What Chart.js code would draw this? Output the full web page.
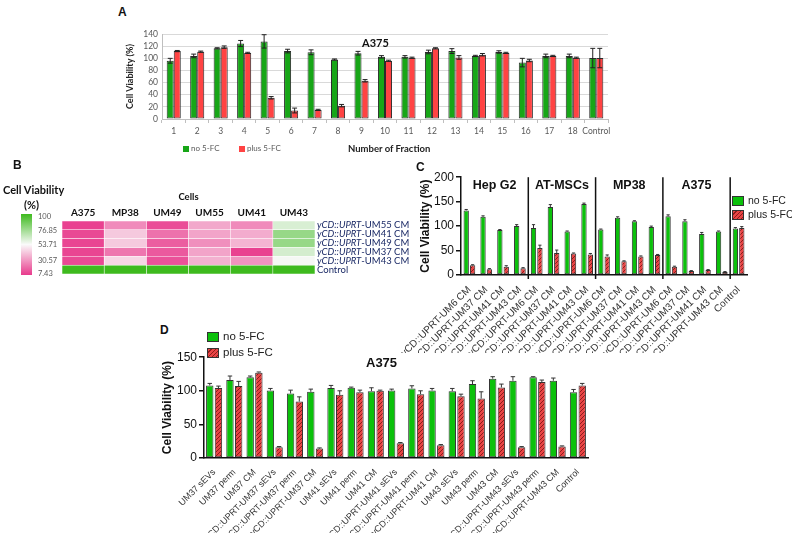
<!DOCTYPE html>
<html>
<head>
    <title>Cell viability panels</title>
    <script src="https://cdn.jsdelivr.net/npm/chart.js"></script>
    <style>
        body { margin: 0; background: #ffffff; }
        #fig { position: relative; width: 792px; height: 533px; overflow: hidden; font-family: "Liberation Sans", Arial, sans-serif; }
        #fig canvas { position: absolute; }
        .txt { position: absolute; white-space: nowrap; line-height: 1; }
        .letter { font-weight: bold; font-size: 12px; color: #111; }
        .xl { font-family: Lato, sans-serif; }
        .box { position: absolute; }
    </style>
</head>
<body>
<div id="fig">
    <!-- panel A -->
    <div class="txt letter" style="left:118px; top:6px;">A</div>
    <canvas id="chartA" width="515" height="120" style="left:100px; top:25px;"></canvas>
    <div class="txt xl" style="left:362px; top:37px; font-size:11px; font-weight:bold; color:#111;">A375</div>
    <div class="box" style="left:183px; top:146px; width:6px; height:6px; background:#17a617;"></div>
    <div class="txt xl" style="left:191px; top:144px; font-size:8px; color:#595959;">no 5-FC</div>
    <div class="box" style="left:239px; top:146px; width:6px; height:6px; background:#ff4343;"></div>
    <div class="txt xl" style="left:247px; top:144px; font-size:8px; color:#595959;">plus 5-FC</div>
    <div class="txt xl" style="left:348px; top:144px; font-size:9.5px; font-weight:bold; color:#222;">Number of Fraction</div>

    <!-- panel B -->
    <div class="txt letter" style="left:13px; top:159px;">B</div>
    <div class="txt xl" style="left:3px; top:184px; font-size:11px; font-weight:bold; color:#111;">Cell Viability</div>
    <div class="txt xl" style="left:24px; top:199px; font-size:11px; font-weight:bold; color:#111;">(%)</div>
    <div class="box" id="cbar" style="left:21px; top:214px; width:11px; height:61px;"></div>
    <div class="txt xl" style="left:38px; top:213px; font-size:7.5px; color:#595959;">100</div>
    <div class="txt xl" style="left:38px; top:227px; font-size:7.5px; color:#595959;">76.85</div>
    <div class="txt xl" style="left:38px; top:241px; font-size:7.5px; color:#595959;">53.71</div>
    <div class="txt xl" style="left:38px; top:257px; font-size:7.5px; color:#595959;">30.57</div>
    <div class="txt xl" style="left:38px; top:270px; font-size:7.5px; color:#595959;">7.43</div>
    <canvas id="chartB" width="360" height="92" style="left:55px; top:186px;"></canvas>

    <!-- panel C -->
    <div class="txt letter" style="left:416px; top:161px;">C</div>
    <canvas id="chartC" width="358" height="185" style="left:395px; top:168px;"></canvas>
    <div class="box" style="left:732px; top:196px; width:10px; height:8px; background:#0bc10b; border:1px solid #333;"></div>
    <div class="txt" style="left:748px; top:195px; font-size:10.5px; color:#222;">no 5-FC</div>
    <div class="box" id="swC" style="left:732px; top:210px; width:10px; height:8px; border:1px solid #333;"></div>
    <div class="txt" style="left:748px; top:209px; font-size:10.5px; color:#222;">plus 5-FC</div>

    <!-- panel D -->
    <div class="txt letter" style="left:160px; top:324px;">D</div>
    <canvas id="chartD" width="434" height="185" style="left:160px; top:348px;"></canvas>
    <div class="txt" style="left:366px; top:356px; font-size:13px; font-weight:bold; color:#111;">A375</div>
    <div class="box" style="left:207px; top:332px; width:10px; height:8px; background:#0bc10b; border:1px solid #333;"></div>
    <div class="txt" style="left:223px; top:331px; font-size:11.5px; color:#222;">no 5-FC</div>
    <div class="box" id="swD" style="left:207px; top:348px; width:10px; height:8px; border:1px solid #333;"></div>
    <div class="txt" style="left:223px; top:347px; font-size:11.5px; color:#222;">plus 5-FC</div>
</div>

<script>
    // ---- panel A data (fractions) ----
    const fractions = ['1','2','3','4','5','6','7','8','9','10','11','12','13','14','15','16','17','18','Control'];
    const aNo      = [96, 104, 116.5, 124.5, 128, 112, 110, 98, 108.5, 102.5, 102.5, 110.5, 112, 104, 110.5, 93, 104, 104, 100.5];
    const aNoErr   = [4, 3, 1, 5, 11, 3, 4, 1, 3, 2, 2, 3, 4, 1, 2, 7, 3, 3, 16];
    const aPlus    = [112, 111, 118.5, 109, 35, 14, 15, 22, 63, 96, 101, 116.5, 101.5, 106, 109, 96.5, 104, 101, 100.5];
    const aPlusErr = [1, 1, 2, 1, 2, 4, 1, 2, 2, 1, 1, 1, 3, 2, 1, 2, 1, 1, 16];

    // ---- panel B data (heatmap) ----
    const hCells = ['A375', 'MP38', 'UM49', 'UM55', 'UM41', 'UM43'];
    const hRowLabels = ['yCD::UPRT-UM55 CM', 'yCD::UPRT-UM41 CM', 'yCD::UPRT-UM49 CM', 'yCD::UPRT-UM37 CM', 'yCD::UPRT-UM43 CM', 'Control'];
    const hUM55 = [9, 27, 12, 34, 27, 62];
    const hUM41 = [11, 42, 21, 33, 35, 78];
    const hUM49 = [10, 42, 16, 28, 37, 78];
    const hUM37 = [10, 22, 15, 33, 9, 63];
    const hUM43 = [11, 45, 13, 36, 29, 55];
    const hControl = [100, 100, 100, 100, 100, 100];
    const hValues = [hUM55, hUM41, hUM49, hUM37, hUM43, hControl];

    // ---- panel C data ----
    const cGroups = ['Hep G2', 'AT-MSCs', 'MP38', 'A375'];
    const cmNames = ['yCD::UPRT-UM6 CM', 'yCD::UPRT-UM37 CM', 'yCD::UPRT-UM41 CM', 'yCD::UPRT-UM43 CM'];
    const cLabels = [...cmNames, ...cmNames, ...cmNames, ...cmNames, 'Control'];
    const cNo      = [132, 119, 92, 100, 96, 139, 89, 145, 93, 117, 110, 98, 120, 110, 84, 89, 95];
    const cNoErr   = [2, 2, 1, 3, 7, 5, 1, 2, 1, 2, 1, 2, 3, 3, 3, 1, 2];
    const cPlus    = [20, 12, 17, 14, 55, 45, 44, 42, 38, 28, 38, 41, 17, 8, 10, 6, 96];
    const cPlusErr = [1, 1, 2, 1, 6, 6, 1, 2, 3, 1, 1, 1, 1, 1, 1, 1, 3];

    // ---- panel D data ----
    const dLabels = ['UM37 sEVs', 'UM37 perm', 'UM37 CM', 'yCD::UPRT-UM37 sEVs', 'yCD::UPRT-UM37 perm', 'yCD::UPRT-UM37 CM',
                     'UM41 sEVs', 'UM41 perm', 'UM41 CM', 'yCD::UPRT-UM41 sEVs', 'yCD::UPRT-UM41 perm', 'yCD::UPRT-UM41 CM',
                     'UM43 sEVs', 'UM43 perm', 'UM43 CM', 'yCD::UPRT-UM43 sEVs', 'yCD::UPRT-UM43 perm', 'yCD::UPRT-UM43 CM', 'Control'];
    const dNo      = [108, 116, 120, 100.5, 96, 98.5, 104, 104.5, 99.5, 100.5, 103.5, 100.5, 99.5, 110, 118, 115, 120, 115, 98];
    const dNoErr   = [3, 6, 2, 3, 5, 4, 4, 1, 5, 2, 4, 3, 4, 5, 3, 6, 1, 4, 4];
    const dPlus    = [104, 107, 127, 16, 84, 14, 94, 98, 100, 22, 95, 19, 92, 88.5, 105, 16, 113, 17, 108];
    const dPlusErr = [3, 7, 1, 1, 7, 1, 6, 3, 1, 1, 5, 1, 3, 10, 5, 1, 3, 1, 3];

    const GREEN = '#0bc10b';
    const HATCH_BG = '#e84545', HATCH_LINE = '#8e1b1b';

    // hatched red fill used in C and D
    function hatch() {
        const c = document.createElement('canvas');
        c.width = 4; c.height = 4;
        const g = c.getContext('2d');
        g.fillStyle = HATCH_BG; g.fillRect(0, 0, 4, 4);
        g.strokeStyle = HATCH_LINE; g.lineWidth = 1;
        g.beginPath(); g.moveTo(-1, 1); g.lineTo(1, -1); g.moveTo(0, 4); g.lineTo(4, 0); g.moveTo(3, 5); g.lineTo(5, 3); g.stroke();
        return g.createPattern(c, 'repeat');
    }
    const swatch = 'repeating-linear-gradient(135deg, ' + HATCH_BG + ' 0 2px, ' + HATCH_LINE + ' 2px 3px)';
    document.getElementById('swC').style.background = swatch;
    document.getElementById('swD').style.background = swatch;

    // heatmap colour scale 7.43 pink -> 53.71 white -> 100 green
    const lo = [232, 58, 140], mid = [250, 250, 250], hi = [62, 186, 30];
    function hmColor(v) {
        let a, b, t;
        if (v <= 53.71) { a = lo; b = mid; t = (v - 7.43) / (53.71 - 7.43); }
        else { a = mid; b = hi; t = (v - 53.71) / (100 - 53.71); }
        t = Math.max(0, Math.min(1, t));
        return 'rgb(' + a.map((c, i) => Math.round(c + (b[i] - c) * t)).join(',') + ')';
    }
    document.getElementById('cbar').style.background =
        'linear-gradient(to bottom, rgb(' + hi.join(',') + '), rgb(' + mid.join(',') + '), rgb(' + lo.join(',') + '))';

    // error bars drawn from the y scale
    const errorBars = {
        id: 'errorBars',
        afterDatasetsDraw(chart, args, opts) {
            const ctx = chart.ctx, y = chart.scales.y;
            chart.data.datasets.forEach((ds, i) => {
                if (!ds.errors) return;
                chart.getDatasetMeta(i).data.forEach((bar, j) => {
                    const v = ds.data[j], e = ds.errors[j];
                    const top = y.getPixelForValue(v + e);
                    const bot = opts.both ? y.getPixelForValue(v - e) : bar.y;
                    const w = bar.width * opts.cap;
                    ctx.save();
                    ctx.strokeStyle = opts.color;
                    ctx.lineWidth = 1;
                    ctx.beginPath();
                    ctx.moveTo(bar.x, top); ctx.lineTo(bar.x, bot);
                    ctx.moveTo(bar.x - w / 2, top); ctx.lineTo(bar.x + w / 2, top);
                    if (opts.both) { ctx.moveTo(bar.x - w / 2, bot); ctx.lineTo(bar.x + w / 2, bot); }
                    ctx.stroke();
                    ctx.restore();
                });
            });
        }
    };

    // group labels and separators for panel C
    const groupLines = {
        id: 'groupLines',
        afterDraw(chart) {
            const ctx = chart.ctx, x = chart.scales.x, a = chart.chartArea;
            ctx.save();
            ctx.fillStyle = '#111';
            ctx.font = 'bold 12.5px "Liberation Sans", Arial';
            ctx.textAlign = 'center';
            ctx.textBaseline = 'middle';
            ctx.strokeStyle = '#111';
            ctx.lineWidth = 1.5;
            cGroups.forEach((g, k) => {
                const first = k * 4, last = k * 4 + 3;
                const center = (x.getPixelForValue(first) + x.getPixelForValue(last)) / 2;
                ctx.fillText(g, center, a.top + 8);
                const sep = (x.getPixelForValue(last) + x.getPixelForValue(last + 1)) / 2;
                ctx.beginPath(); ctx.moveTo(sep, a.top); ctx.lineTo(sep, a.bottom + 4); ctx.stroke();
            });
            ctx.restore();
        }
    };

    // heatmap row labels with italic gene part
    const rowLabels = {
        id: 'rowLabels',
        afterDraw(chart) {
            const ctx = chart.ctx, y = chart.scales.y, a = chart.chartArea;
            ctx.save();
            ctx.fillStyle = '#1b2a66';
            ctx.textBaseline = 'middle';
            hRowLabels.forEach((lab, i) => {
                const py = y.getPixelForValue(i);
                let px = a.right + 2;
                const cut = lab.indexOf('-');
                if (cut > 0) {
                    ctx.font = 'italic 9.5px Lato';
                    ctx.fillText(lab.slice(0, cut), px, py);
                    px += ctx.measureText(lab.slice(0, cut)).width;
                    ctx.font = '9.5px Lato';
                    ctx.fillText(lab.slice(cut), px, py);
                } else {
                    ctx.font = '9.5px Lato';
                    ctx.fillText(lab, px, py);
                }
            });
            ctx.restore();
        }
    };

    // ---- chart A ----
    new Chart(document.getElementById('chartA'), {
        type: 'bar',
        data: {
            labels: fractions,
            datasets: [
                { label: 'no 5-FC', data: aNo, errors: aNoErr, backgroundColor: '#17a617', borderColor: '#2b2b2b', borderWidth: 1 },
                { label: 'plus 5-FC', data: aPlus, errors: aPlusErr, backgroundColor: '#ff4343', borderColor: '#2b2b2b', borderWidth: 1 }
            ]
        },
        plugins: [errorBars],
        options: {
            responsive: false,
            animation: false,
            layout: { padding: { top: 7, right: 7, left: 23 } },
            datasets: { bar: { categoryPercentage: 0.6, barPercentage: 1, borderSkipped: false } },
            plugins: { legend: { display: false }, tooltip: { enabled: false }, errorBars: { both: true, color: '#222', cap: 0.7 } },
            scales: {
                x: {
                    afterFit: s => { s.height = 26; },
                    grid: { drawOnChartArea: false, offset: true, tickLength: 4, color: '#bfbfbf' },
                    border: { color: '#bfbfbf' },
                    ticks: { font: { family: 'Lato', size: 8.5 }, color: '#595959', padding: 3, autoSkip: false, maxRotation: 0 }
                },
                y: {
                    min: 0, max: 140,
                    afterFit: s => { s.width = 39; },
                    ticks: { stepSize: 20, autoSkip: false, font: { family: 'Lato', size: 8.5 }, color: '#595959', padding: 4 },
                    grid: { color: '#d9d9d9', drawTicks: false },
                    border: { color: '#bfbfbf' },
                    title: { display: true, text: 'Cell Viability (%)', font: { family: 'Lato', size: 9, weight: 'bold' }, color: '#222', padding: 2 }
                }
            }
        }
    });

    // ---- chart B (heatmap) ----
    new Chart(document.getElementById('chartB'), {
        type: 'bar',
        data: {
            labels: hRowLabels,
            datasets: hCells.map((cell, j) => ({
                label: cell,
                data: hValues.map(() => 1),
                backgroundColor: hValues.map(r => hmColor(r[j])),
                borderColor: 'rgba(255,255,255,0.55)',
                borderWidth: 0.6,
                borderSkipped: false
            }))
        },
        plugins: [rowLabels],
        options: {
            responsive: false,
            animation: false,
            indexAxis: 'y',
            layout: { padding: { left: 7, right: 100, bottom: 4 } },
            datasets: { bar: { categoryPercentage: 1, barPercentage: 1 } },
            plugins: { legend: { display: false }, tooltip: { enabled: false } },
            scales: {
                x: {
                    stacked: true, position: 'top', min: 0, max: hCells.length,
                    afterFit: s => { s.height = 35; },
                    afterBuildTicks: ax => { ax.ticks = hCells.map((c, i) => ({ value: i + 0.5 })); },
                    ticks: { callback: (v, i) => hCells[i], autoSkip: false, maxRotation: 0, font: { family: 'Lato', size: 10, weight: 'bold' }, color: '#111', padding: 2 },
                    grid: { display: false, drawTicks: false },
                    border: { display: false },
                    title: { display: true, text: 'Cells', font: { family: 'Lato', size: 9.5, weight: 'bold' }, color: '#111', padding: { top: 5, bottom: 2 } }
                },
                y: { stacked: true, display: false }
            }
        }
    });

    const axisFont = { family: '"Liberation Sans", Arial', size: 12 };

    // ---- chart C ----
    new Chart(document.getElementById('chartC'), {
        type: 'bar',
        data: {
            labels: cLabels,
            datasets: [
                { label: 'no 5-FC', data: cNo, errors: cNoErr, backgroundColor: GREEN, borderColor: '#333', borderWidth: 1 },
                { label: 'plus 5-FC', data: cPlus, errors: cPlusErr, backgroundColor: hatch(), borderColor: '#333', borderWidth: 1 }
            ]
        },
        plugins: [errorBars, groupLines],
        options: {
            responsive: false,
            animation: false,
            layout: { padding: { top: 9, right: 6, left: 23 } },
            datasets: { bar: { categoryPercentage: 0.76, barPercentage: 0.83, borderSkipped: false } },
            plugins: { legend: { display: false }, tooltip: { enabled: false }, errorBars: { both: false, color: '#333', cap: 0.6 } },
            scales: {
                x: {
                    afterFit: s => { s.height = 78; s.paddingLeft = 0; s.paddingRight = 0; },
                    grid: { display: false },
                    border: { color: '#111', width: 1.5 },
                    ticks: { font: { family: '"Liberation Sans", Arial', size: 10 }, color: '#333', minRotation: 45, maxRotation: 45, autoSkip: false, padding: 1 }
                },
                y: {
                    min: 0, max: 200,
                    afterFit: s => { s.width = 43; },
                    ticks: { stepSize: 50, font: axisFont, color: '#111', padding: 2 },
                    grid: { drawOnChartArea: false, tickLength: 5, color: '#111', lineWidth: 1.5 },
                    border: { color: '#111', width: 1.5 },
                    title: { display: true, text: 'Cell Viability (%)', font: { family: '"Liberation Sans", Arial', size: 12, weight: 'bold' }, color: '#111', padding: 0 }
                }
            }
        }
    });

    // ---- chart D ----
    new Chart(document.getElementById('chartD'), {
        type: 'bar',
        data: {
            labels: dLabels,
            datasets: [
                { label: 'no 5-FC', data: dNo, errors: dNoErr, backgroundColor: GREEN, borderColor: '#333', borderWidth: 1 },
                { label: 'plus 5-FC', data: dPlus, errors: dPlusErr, backgroundColor: hatch(), borderColor: '#333', borderWidth: 1 }
            ]
        },
        plugins: [errorBars],
        options: {
            responsive: false,
            animation: false,
            layout: { padding: { top: 9, right: 6 } },
            datasets: { bar: { categoryPercentage: 0.86, barPercentage: 0.85, borderSkipped: false } },
            plugins: { legend: { display: false }, tooltip: { enabled: false }, errorBars: { both: false, color: '#333', cap: 0.6 } },
            scales: {
                x: {
                    afterFit: s => { s.height = 75; s.paddingLeft = 0; s.paddingRight = 0; },
                    grid: { display: false },
                    border: { color: '#111', width: 1.5 },
                    ticks: { font: { family: '"Liberation Sans", Arial', size: 9 }, color: '#333', minRotation: 45, maxRotation: 45, autoSkip: false, padding: 1 }
                },
                y: {
                    min: 0, max: 150,
                    afterFit: s => { s.width = 44; },
                    ticks: { stepSize: 50, font: axisFont, color: '#111', padding: 2 },
                    grid: { drawOnChartArea: false, tickLength: 5, color: '#111', lineWidth: 1.5 },
                    border: { color: '#111', width: 1.5 },
                    title: { display: true, text: 'Cell Viability (%)', font: { family: '"Liberation Sans", Arial', size: 12, weight: 'bold' }, color: '#111', padding: 0 }
                }
            }
        }
    });
</script>
</body>
</html>
